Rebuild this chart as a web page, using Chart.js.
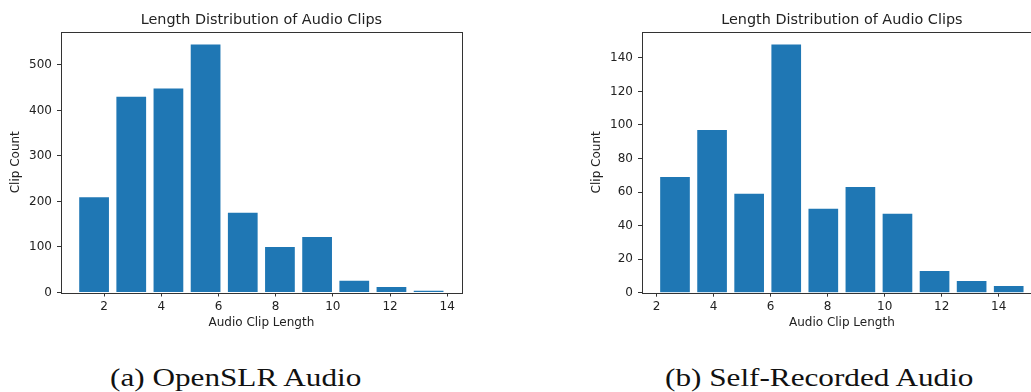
<!DOCTYPE html>
<html>
<head>
<meta charset="utf-8">
<script src="https://cdn.jsdelivr.net/npm/chart.js@4/dist/chart.umd.min.js"></script>
<style>
html,body{margin:0;padding:0;background:#fff;overflow:hidden;width:1031px;height:392px;}
#wrap{position:relative;width:1031px;height:392px;overflow:hidden;}
.c{position:absolute;top:0;height:340px;}
.cap{position:absolute;top:365px;font-family:"Liberation Serif",serif;font-size:26px;line-height:26px;color:#111;white-space:nowrap;transform:scaleX(1.2);transform-origin:left top;}
</style>
</head>
<body>
<div id="wrap">
  <div class="c" style="left:0;width:480px;"><canvas id="chartA"></canvas></div>
  <div class="c" style="left:560px;width:482px;"><canvas id="chartB"></canvas></div>
  <div class="cap" style="left:110px;">(a) OpenSLR Audio</div>
  <div class="cap" style="left:665px;">(b) Self-Recorded Audio</div>
</div>
<script>
// ---- data ----
const chartTitle = "Length Distribution of Audio Clips";
const xLabel = "Audio Clip Length";
const yLabel = "Clip Count";

const openslrBinCenters = [1.65, 2.95, 4.25, 5.55, 6.85, 8.15, 9.45, 10.75, 12.05, 13.35];
const openslrCounts     = [209, 430, 448, 545, 175, 100, 122, 26, 12, 4];

const selfBinCenters = [2.65, 3.95, 5.25, 6.55, 7.85, 9.15, 10.45, 11.75, 13.05, 14.35];
const selfCounts     = [69, 97, 59, 148, 50, 63, 47, 13, 7, 4];

const xTicks        = [2, 4, 6, 8, 10, 12, 14];
const openslrYTicks = [0, 100, 200, 300, 400, 500];
const selfYTicks    = [0, 20, 40, 60, 80, 100, 120, 140];

// ---- drawing ----
const barColor = '#1f77b4';
const axisColor = '#333';
const textColor = '#222';
const font12 = {family: 'DejaVu Sans', size: 12};

const framePlugin = {
  id: 'frame',
  afterDraw(chart) {
    const a = chart.chartArea, ctx = chart.ctx;
    ctx.save();
    ctx.strokeStyle = axisColor;
    ctx.lineWidth = 1;
    ctx.strokeRect(Math.round(a.left) + 0.5, Math.round(a.top) + 0.5,
                   Math.round(a.right - a.left), Math.round(a.bottom - a.top));
    ctx.restore();
  }
};

function makeChart(id, centers, counts, yTicks, cfg) {
  return new Chart(document.getElementById(id), {
    type: 'bar',
    data: {
      datasets: [{
        data: centers.map((c, i) => ({x: c, y: counts[i]})),
        backgroundColor: barColor,
        borderWidth: 0,
        barPercentage: 0.8,
        categoryPercentage: 1.0
      }]
    },
    plugins: [framePlugin],
    options: {
      responsive: true,
      maintainAspectRatio: false,
      animation: false,
      events: [],
      layout: {padding: {left: 0, right: cfg.padRight, top: 0, bottom: 0}},
      plugins: {legend: {display: false}, tooltip: {enabled: false}, title: {display: false}},
      scales: {
        x: {
          type: 'linear',
          position: 'bottom',
          min: cfg.xMin, max: cfg.xMax,
          offset: false,
          afterBuildTicks: s => { s.ticks = xTicks.map(v => ({value: v})); },
          afterFit: s => { s.height = cfg.xAxisHeight; },
          grid: {display: true, drawOnChartArea: false, drawTicks: true, tickLength: 4, color: axisColor, offset: false},
          border: {display: false},
          ticks: {font: font12, color: textColor, padding: 3, maxRotation: 0, autoSkip: false},
          title: {display: true, text: xLabel, font: font12, color: textColor, padding: {top: 0, bottom: 9.8}}
        },
        xt: {
          type: 'linear',
          position: 'top',
          afterFit: s => { s.height = 32; },
          grid: {display: false},
          border: {display: false},
          ticks: {display: false},
          title: {display: true, text: chartTitle, font: {family: 'DejaVu Sans', size: 14.4}, color: textColor, padding: {top: 11.4, bottom: 0}}
        },
        y: {
          type: 'linear',
          position: 'left',
          min: 0, max: cfg.yMax,
          afterBuildTicks: s => { s.ticks = yTicks.map(v => ({value: v})); },
          afterFit: s => { s.width = cfg.yAxisWidth; },
          grid: {display: true, drawOnChartArea: false, drawTicks: true, tickLength: 4, color: axisColor},
          border: {display: false},
          ticks: {font: font12, color: textColor, padding: 5, autoSkip: false},
          title: {display: true, text: yLabel, font: font12, color: textColor, padding: {top: cfg.yTitlePad, bottom: 0}}
        }
      }
    }
  });
}

makeChart('chartA', openslrBinCenters, openslrCounts, openslrYTicks, {
  xMin: 0.493, xMax: 14.507, yMax: 572.25,
  yAxisWidth: 61, xAxisHeight: 47.5, padRight: 18.3, yTitlePad: 8.8
});
makeChart('chartB', selfBinCenters, selfCounts, selfYTicks, {
  xMin: 1.493, xMax: 15.507, yMax: 155.4,
  yAxisWidth: 82, xAxisHeight: 47.3, padRight: 0.3, yTitlePad: 30.1
});
</script>
</body>
</html>
